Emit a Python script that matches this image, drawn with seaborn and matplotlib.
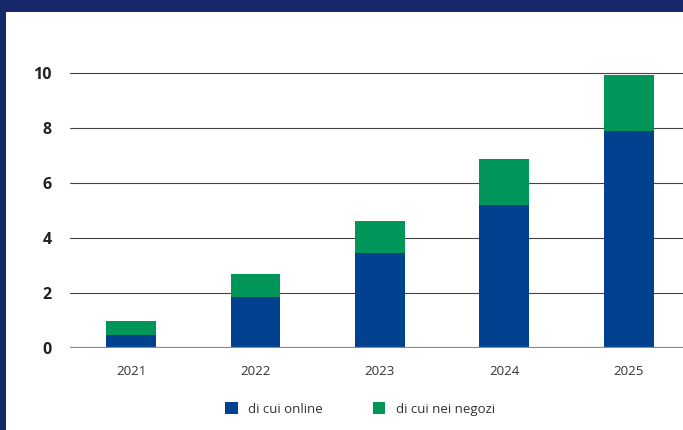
import matplotlib
matplotlib.use("Agg")
import matplotlib.pyplot as plt
import seaborn as sns
import pandas as pd
from matplotlib.patches import Rectangle

years = ["2021", "2022", "2023", "2024", "2025"]
online = [0.47, 1.85, 3.45, 5.2, 7.9]
negozi = [0.51, 0.85, 1.15, 1.65, 2.03]
series_labels = ["di cui online", "di cui nei negozi"]
yticks = [0, 2, 4, 6, 8, 10]

BLUE = "#00418F"
GREEN = "#009659"
NAVY = "#16286A"

sns.set_theme(style="white")
plt.rcParams['font.family'] = ['Open Sans', 'DejaVu Sans']

W, H = 683, 430
fig = plt.figure(figsize=(W / 100, H / 100), dpi=100)
fig.patch.set_facecolor(NAVY)
fig.patches.append(Rectangle((6 / W, 0), 1 - 6 / W, 1 - 12 / H, transform=fig.transFigure,
                             facecolor="white", edgecolor="none", zorder=-10))

ax_left, ax_right = 70, 683
ax_bottom, ax_top = 348, 59
ax = fig.add_axes([ax_left / W, 1 - ax_bottom / H, (ax_right - ax_left) / W, (ax_bottom - ax_top) / H])
ax.set_facecolor("none")
ax.set_zorder(5)

df = pd.DataFrame({"year": years, "online": online, "negozi": negozi})
df["total"] = df["online"] + df["negozi"]

sns.barplot(data=df, x="year", y="total", color=GREEN, width=0.4, ax=ax, saturation=1,
            zorder=3, linewidth=0, edgecolor="none")
sns.barplot(data=df, x="year", y="online", color=BLUE, width=0.4, ax=ax, saturation=1,
            zorder=4, linewidth=0, edgecolor="none")

ax.set_xlim(-0.49, 4.435)
ax.set_ylim(0, 10.5)
ax.set_yticks(yticks)
ax.set_yticklabels([str(t) for t in yticks], fontsize=11.5, fontweight="bold", color="#222222")
for t in yticks[1:]:
    ax.axhline(t, color="#444444", linewidth=0.8, zorder=1)
ax.axhline(0, color="#8a8a8a", linewidth=1.6, zorder=5)
for s in ax.spines.values():
    s.set_visible(False)
ax.tick_params(axis="y", length=0, pad=13)
ax.tick_params(axis="x", length=0, pad=12, labelsize=9.5, labelcolor="#333333")
ax.set_xlabel("")
ax.set_ylabel("")

handles = [Rectangle((0, 0), 1, 1, facecolor=BLUE, edgecolor="none"),
           Rectangle((0, 0), 1, 1, facecolor=GREEN, edgecolor="none")]
leg = fig.legend(handles, series_labels, loc="center", bbox_to_anchor=(360 / W, 1 - 409 / H),
                 ncol=2, frameon=False, fontsize=9.5, handlelength=0.95, handleheight=0.95,
                 handletextpad=0.8, columnspacing=3.8, labelcolor="#333333")
leg.set_zorder(6)

fig.savefig("out.png", dpi=100, facecolor=fig.get_facecolor())
